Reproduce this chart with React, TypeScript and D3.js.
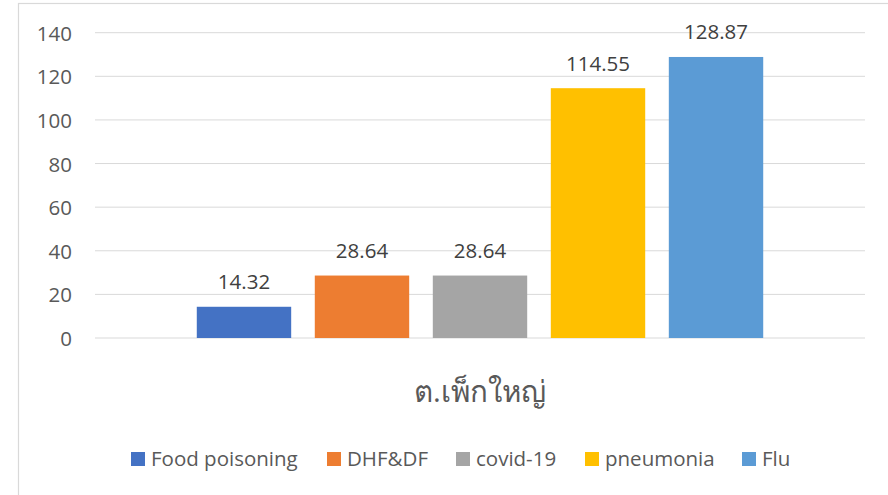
import React from "react";
import * as d3 from "d3";

const categories = ["ต.เพ็กใหญ่"];
const seriesNames = ["Food poisoning", "DHF&DF", "covid-19", "pneumonia", "Flu"];
const seriesValues = [14.32, 28.64, 28.64, 114.55, 128.87];
const seriesColors = ["#4472C4", "#ED7D31", "#A5A5A5", "#FFC000", "#5B9BD5"];
const yTicks = [0, 20, 40, 60, 80, 100, 120, 140];

const W = 888;
const H = 495;
const plotLeft = 95;
const plotRight = 865;
const plotTop = 32.7;
const plotBottom = 338;
const FONT = "'Open Sans', 'Noto Sans', sans-serif";

export default function App() {
  const y = d3.scaleLinear().domain([0, 140]).range([plotBottom, plotTop]);
  const x0 = d3
    .scaleBand<string>()
    .domain(categories)
    .range([plotLeft, plotRight])
    .paddingInner(0)
    .paddingOuter(0.1525);
  const x1 = d3
    .scaleBand<string>()
    .domain(seriesNames)
    .range([0, x0.bandwidth()])
    .paddingInner(0.2)
    .paddingOuter(0.1);

  const legendMarkerX = [131, 327, 456, 585, 742];

  return (
    <svg
      width={W}
      height={H}
      style={{ position: "absolute", left: 0, top: 0, display: "block", background: "#fff" }}
    >
      <rect x={0} y={0} width={W} height={H} fill="#fff" />
      <rect x={18.5} y={3.5} width={W + 20} height={H + 20} fill="none" stroke="#d9d9d9" strokeWidth={1.2} />
      {yTicks.map((t) => (
        <g key={t}>
          <line x1={plotLeft} x2={plotRight} y1={y(t)} y2={y(t)} stroke="#d9d9d9" strokeWidth={1} />
          <text
            x={72}
            y={y(t)}
            textAnchor="end"
            dominantBaseline="central"
            fontFamily={FONT}
            fontSize={20.5}
            fill="#595959"
          >
            {t}
          </text>
        </g>
      ))}
      {categories.map((c) => (
        <g key={c} transform={`translate(${x0(c)},0)`}>
          {seriesNames.map((s, i) => (
            <g key={s}>
              <rect
                x={x1(s)}
                y={y(seriesValues[i])}
                width={x1.bandwidth()}
                height={y(0) - y(seriesValues[i])}
                fill={seriesColors[i]}
              />
              <text
                x={(x1(s) as number) + x1.bandwidth() / 2}
                y={y(seriesValues[i]) - 17.5}
                textAnchor="middle"
                fontFamily={FONT}
                fontSize={20.5}
                fill="#404040"
              >
                {seriesValues[i].toFixed(2)}
              </text>
            </g>
          ))}
          <text
            x={x0.bandwidth() / 2}
            y={402}
            textAnchor="middle"
            fontFamily={FONT}
            fontSize={29.5}
            fontWeight={500}
            fill="#595959"
          >
            {c}
          </text>
        </g>
      ))}
      {seriesNames.map((s, i) => (
        <g key={s}>
          <rect x={legendMarkerX[i]} y={452} width={14} height={14} fill={seriesColors[i]} />
          <text
            x={legendMarkerX[i] + 20}
            y={465.5}
            fontFamily={FONT}
            fontSize={20.5}
            fill="#595959"
          >
            {s}
          </text>
        </g>
      ))}
    </svg>
  );
}
